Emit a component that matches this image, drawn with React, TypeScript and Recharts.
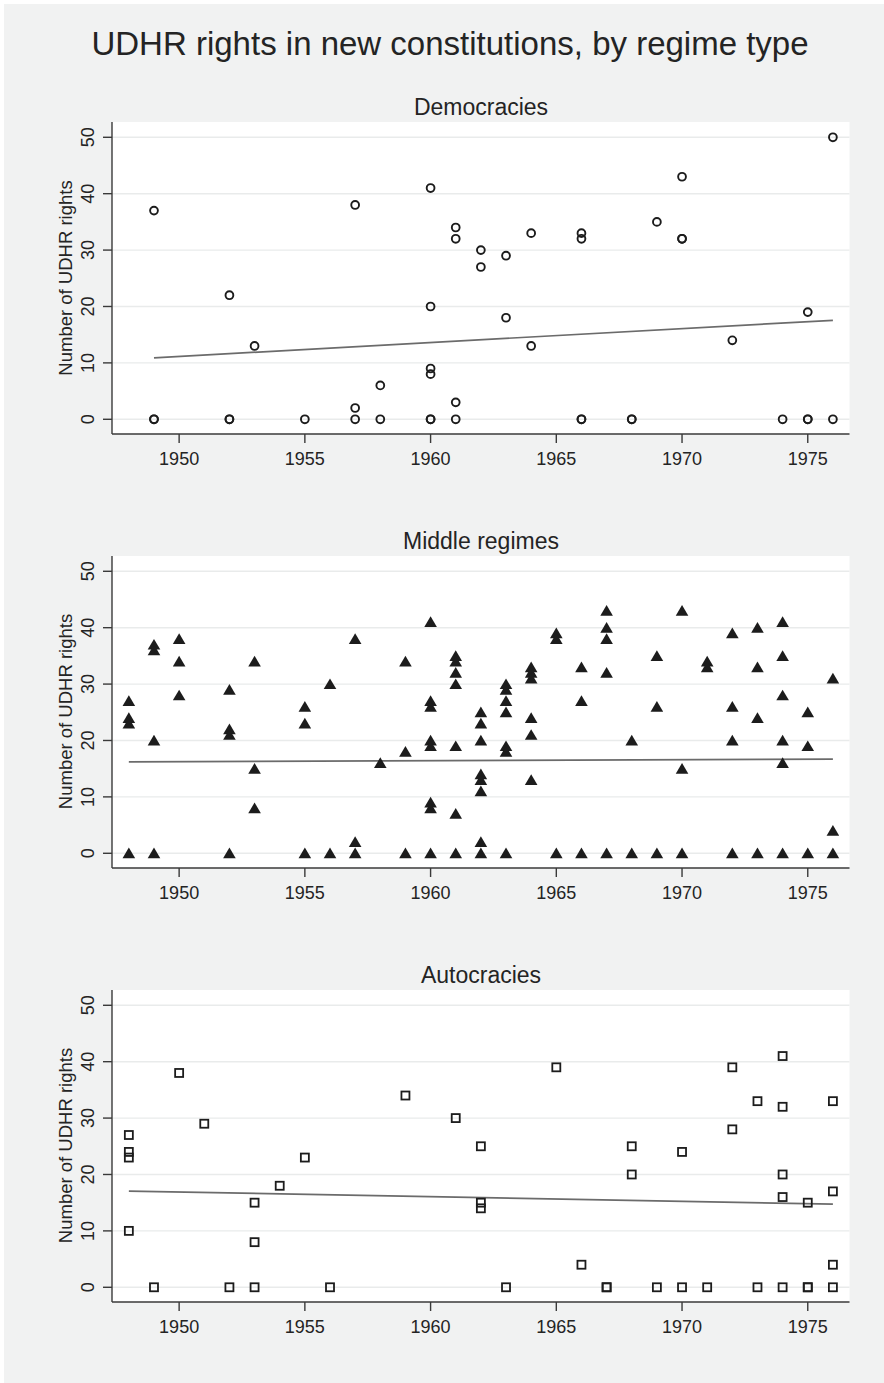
import React from 'react';
import { ScatterChart, Scatter, XAxis, YAxis, CartesianGrid, ReferenceLine } from 'recharts';

// ---- data ----
const yearTicks = [1950, 1955, 1960, 1965, 1970, 1975];
const countTicks = [0, 10, 20, 30, 40, 50];

const democracies: [number, number][] = [
  [1949, 37], [1949, 0], [1949, 0],
  [1952, 22], [1952, 0], [1952, 0],
  [1953, 13],
  [1955, 0],
  [1957, 38], [1957, 2], [1957, 0],
  [1958, 6], [1958, 0],
  [1960, 41], [1960, 20], [1960, 9], [1960, 8], [1960, 0], [1960, 0],
  [1961, 34], [1961, 32], [1961, 3], [1961, 0],
  [1962, 30], [1962, 27],
  [1963, 29], [1963, 18],
  [1964, 33], [1964, 13],
  [1966, 33], [1966, 32], [1966, 0], [1966, 0],
  [1968, 0], [1968, 0],
  [1969, 35],
  [1970, 43], [1970, 32], [1970, 32],
  [1972, 14],
  [1974, 0],
  [1975, 19], [1975, 0], [1975, 0],
  [1976, 50], [1976, 0],
];
const democraciesFit: [number, number][] = [[1949, 10.9], [1976, 17.55]];

const middleRegimes: [number, number][] = [
  [1948, 27], [1948, 24], [1948, 23], [1948, 0],
  [1949, 37], [1949, 36], [1949, 20], [1949, 0],
  [1950, 38], [1950, 34], [1950, 28],
  [1952, 29], [1952, 22], [1952, 21], [1952, 0],
  [1953, 34], [1953, 15], [1953, 8],
  [1955, 26], [1955, 23], [1955, 0],
  [1956, 30], [1956, 0],
  [1957, 38], [1957, 2], [1957, 0],
  [1958, 16],
  [1959, 34], [1959, 18], [1959, 0],
  [1960, 41], [1960, 27], [1960, 26], [1960, 20], [1960, 19], [1960, 9], [1960, 8], [1960, 0],
  [1961, 35], [1961, 34], [1961, 32], [1961, 30], [1961, 19], [1961, 7], [1961, 0],
  [1962, 25], [1962, 23], [1962, 20], [1962, 14], [1962, 13], [1962, 11], [1962, 2], [1962, 0],
  [1963, 30], [1963, 29], [1963, 27], [1963, 25], [1963, 19], [1963, 18], [1963, 0],
  [1964, 33], [1964, 32], [1964, 31], [1964, 24], [1964, 21], [1964, 13],
  [1965, 39], [1965, 38], [1965, 0],
  [1966, 33], [1966, 27], [1966, 0],
  [1967, 43], [1967, 40], [1967, 38], [1967, 32], [1967, 0],
  [1968, 20], [1968, 0],
  [1969, 35], [1969, 26], [1969, 0],
  [1970, 43], [1970, 15], [1970, 0],
  [1971, 34], [1971, 33],
  [1972, 39], [1972, 26], [1972, 20], [1972, 0],
  [1973, 40], [1973, 33], [1973, 24], [1973, 0],
  [1974, 41], [1974, 35], [1974, 28], [1974, 20], [1974, 16], [1974, 0],
  [1975, 25], [1975, 19], [1975, 0],
  [1976, 31], [1976, 4], [1976, 0],
];
const middleFit: [number, number][] = [[1948, 16.2], [1976, 16.7]];

const autocracies: [number, number][] = [
  [1948, 27], [1948, 24], [1948, 23], [1948, 10],
  [1949, 0],
  [1950, 38],
  [1951, 29],
  [1952, 0],
  [1953, 15], [1953, 8], [1953, 0],
  [1954, 18],
  [1955, 23],
  [1956, 0],
  [1959, 34],
  [1961, 30],
  [1962, 25], [1962, 15], [1962, 14],
  [1963, 0],
  [1965, 39],
  [1966, 4],
  [1967, 0], [1967, 0],
  [1968, 25], [1968, 20],
  [1969, 0],
  [1970, 24], [1970, 0],
  [1971, 0],
  [1972, 39], [1972, 28],
  [1973, 33], [1973, 0],
  [1974, 41], [1974, 32], [1974, 20], [1974, 16], [1974, 0],
  [1975, 15], [1975, 0], [1975, 0],
  [1976, 33], [1976, 17], [1976, 4], [1976, 0],
];
const autocraciesFit: [number, number][] = [[1948, 17.05], [1976, 14.75]];

const mainTitle = 'UDHR rights in new constitutions, by regime type';
const panelTitles = ['Democracies', 'Middle regimes', 'Autocracies'];
const yLabel = 'Number of UDHR rights';

// ---- styles ----
const FONT = '"Liberation Sans", Arial, Helvetica, sans-serif';
const BG = '#f1f2f2';
const TEXT = '#242424';
const AXIS = '#3a3a3a';
const MARK = '#1c1c1c';
const FITC = '#6b6b6b';
const W = 884;
const CH = 480;
const PANEL_OFFSETS = [0, 433.5, 867.5];

const CircleShape = (p: any) => (
  <circle cx={p.cx} cy={p.cy} r={3.9} fill="none" stroke={MARK} strokeWidth={1.9} />
);
const TriangleShape = (p: any) => (
  <path
    d={`M${p.cx - 6.3},${p.cy + 5} L${p.cx + 6.3},${p.cy + 5} L${p.cx},${p.cy - 5.7} Z`}
    fill={MARK}
  />
);
const SquareShape = (p: any) => (
  <rect x={p.cx - 4} y={p.cy - 4} width={8} height={8} fill="none" stroke={MARK} strokeWidth={1.8} />
);

const XTick = (p: any) => (
  <text x={p.x} y={p.y + 22} textAnchor="middle" fontSize={18} fill={TEXT} fontFamily={FONT}>
    {p.payload.value}
  </text>
);
const YTick = (p: any) => {
  const bx = p.x - 8.5;
  return (
    <text
      x={bx}
      y={p.y}
      transform={`rotate(-90, ${bx}, ${p.y})`}
      textAnchor="middle"
      fontSize={18}
      fill={TEXT}
      fontFamily={FONT}
    >
      {p.payload.value}
    </text>
  );
};

const toPts = (arr: [number, number][]) => arr.map(([year, n]) => ({ year, n }));

function Panel({ data, fit, shape, top }: { data: [number, number][]; fit: [number, number][]; shape: any; top: number }) {
  return (
    <div style={{ position: 'absolute', left: 0, top, width: W, height: CH }}>
      <ScatterChart width={W} height={CH} margin={{ top: 122, right: 34.5, bottom: 0, left: 0 }}>
        <CartesianGrid vertical={false} horizontal={true} stroke="#e9ebeb" strokeWidth={1.4} fill="#ffffff" horizontalValues={countTicks} />
        <XAxis
          type="number"
          dataKey="year"
          domain={[1947.33, 1976.66]}
          allowDataOverflow
          ticks={yearTicks}
          height={46}
          tickSize={9}
          tickMargin={0}
          axisLine={{ stroke: AXIS, strokeWidth: 1.4 }}
          tickLine={{ stroke: AXIS, strokeWidth: 1.4 }}
          tick={<XTick />}
          interval={0}
        />
        <YAxis
          type="number"
          dataKey="n"
          domain={[-2.61, 52.71]}
          allowDataOverflow
          ticks={countTicks}
          width={112}
          tickSize={9}
          tickMargin={0}
          axisLine={{ stroke: AXIS, strokeWidth: 1.4 }}
          tickLine={{ stroke: AXIS, strokeWidth: 1.4 }}
          tick={<YTick />}
          interval={0}
        />
        <ReferenceLine
          segment={[{ x: fit[0][0], y: fit[0][1] }, { x: fit[1][0], y: fit[1][1] }]}
          stroke={FITC}
          strokeWidth={1.7}
        />
        <Scatter data={toPts(data)} shape={shape} isAnimationActive={false} />
      </ScatterChart>
    </div>
  );
}

export default function App() {
  const panels = [
    { data: democracies, fit: democraciesFit, shape: CircleShape },
    { data: middleRegimes, fit: middleFit, shape: TriangleShape },
    { data: autocracies, fit: autocraciesFit, shape: SquareShape },
  ];
  return (
    <div style={{ position: 'absolute', left: 0, top: 0, width: W, height: 1383, background: '#ffffff', overflow: 'hidden' }}>
      <div style={{ position: 'absolute', left: 4, top: 4, width: W - 4, height: 1383 - 4, background: BG }} />
      {panels.map((p, i) => (
        <Panel key={i} data={p.data} fit={p.fit} shape={p.shape} top={PANEL_OFFSETS[i]} />
      ))}
      <svg width={W} height={1383} style={{ position: 'absolute', left: 0, top: 0, pointerEvents: 'none' }}>
        <text x={450} y={55} textAnchor="middle" fontSize={33} fill={TEXT} fontFamily={FONT}>
          {mainTitle}
        </text>
        {panelTitles.map((t, i) => (
          <text key={t} x={481} y={115 + PANEL_OFFSETS[i]} textAnchor="middle" fontSize={23} fill={TEXT} fontFamily={FONT}>
            {t}
          </text>
        ))}
        {panelTitles.map((t, i) => {
          const cy = 278 + PANEL_OFFSETS[i];
          return (
            <text
              key={'yl' + t}
              x={71.5}
              y={cy}
              transform={`rotate(-90, 71.5, ${cy})`}
              textAnchor="middle"
              fontSize={18.5}
              fill={TEXT}
              fontFamily={FONT}
            >
              {yLabel}
            </text>
          );
        })}
      </svg>
    </div>
  );
}
